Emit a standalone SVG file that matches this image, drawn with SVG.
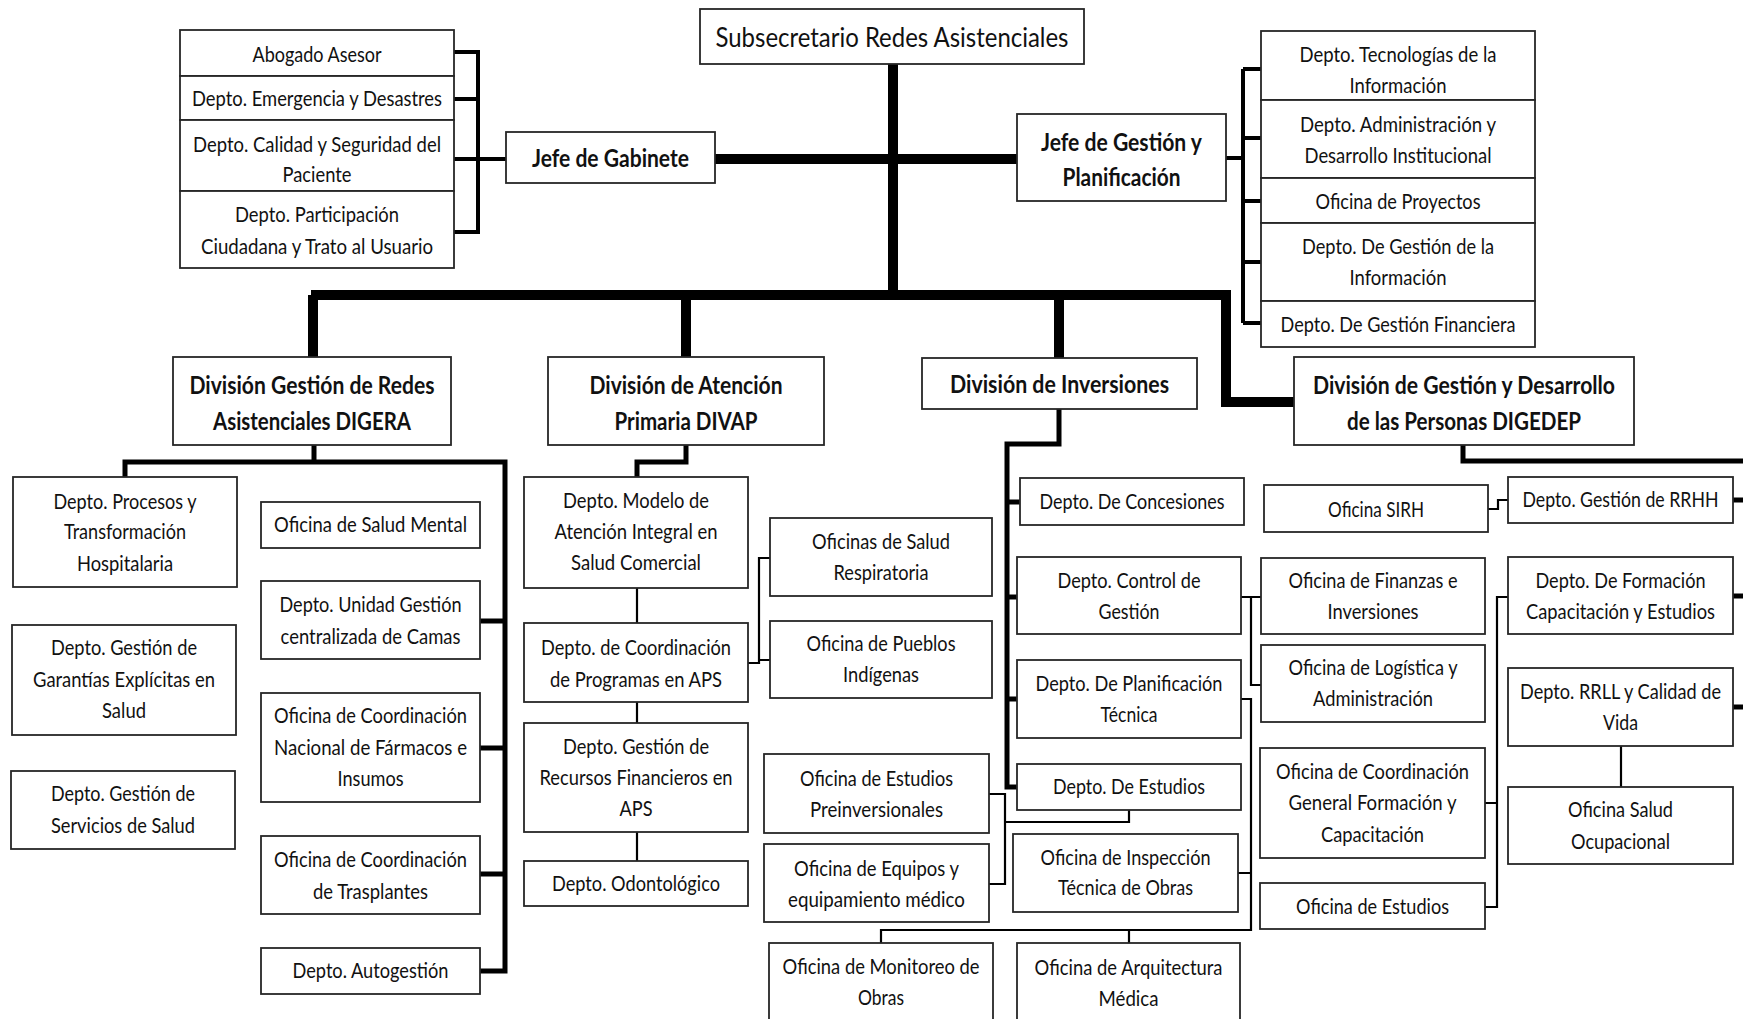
<svg xmlns="http://www.w3.org/2000/svg" width="1743" height="1019" viewBox="0 0 1743 1019">
<style>
.bg{fill:#fff}
.box{fill:#fff;stroke:#262626;stroke-width:1.8}
.t{font-family:Lato,"Liberation Sans",sans-serif;font-size:21px;text-anchor:middle;fill:#111}
.b{font-family:Lato,"Liberation Sans",sans-serif;font-size:24px;font-weight:bold;text-anchor:middle;fill:#111}
.s{font-family:Lato,"Liberation Sans",sans-serif;font-size:26px;text-anchor:middle;fill:#111}
.k{fill:none;stroke:#000;stroke-width:10}
.m{fill:none;stroke:#000;stroke-width:5}
.g{fill:none;stroke:#000;stroke-width:4}
.n{fill:none;stroke:#000;stroke-width:2.2}
</style>
<rect class="bg" x="0" y="0" width="1743" height="1019"/>
<g id="connectors">
<path class="k" d="M893 63V295"/>
<path class="k" d="M715 159H1017"/>
<path class="k" d="M311 295H1226V402H1294"/>
<path class="k" d="M313 295V357M686 295V357M1059 295V358"/>
<path class="g" d="M454 52H478V232H454M454 99H478M454 159H506"/>
<path class="g" d="M1226 158H1243M1243 69V323M1243 69H1261M1243 138H1261M1243 201H1261M1243 262H1261M1243 323H1261"/>
<path class="m" d="M314 445V462M125 477V462H505V971H480M480 621H505M480 748H505M480 874H505"/>
<path class="m" d="M686 445V462H637V477"/>
<path class="m" d="M1059 409V444H1007V787H1017M1007 502H1020M1007 597H1017M1007 699H1017"/>
<path class="m" d="M1463 445V461H1743M1733 500H1743M1733 596H1743M1733 707H1743"/>
<path class="n" d="M637 588V623M637 702V723M637 832V861M748 663H759V558H770M759 660H770"/>
<path class="n" d="M1129 810V822H1005M989 794H1005V884H989"/>
<path class="n" d="M1241 597H1261M1251 597V685H1261"/>
<path class="n" d="M1240 699H1251V930H881V943M1129 930V943M1238 873H1251"/>
<path class="n" d="M1488 509H1498V500H1508M1621 746V787M1508 597H1497V907H1485M1485 803H1497"/>
</g>
<g id="n-sub"><rect class="box" x="700" y="9" width="384" height="55"/><text class="s" x="892" y="47" textLength="353" lengthAdjust="spacingAndGlyphs">Subsecretario Redes Asistenciales</text></g>
<g id="n-abogado"><rect class="box" x="180" y="30" width="274" height="46"/><text class="t" x="317" y="62" textLength="129" lengthAdjust="spacingAndGlyphs">Abogado Asesor</text></g>
<g id="n-emergencia"><rect class="box" x="180" y="76" width="274" height="44"/><text class="t" x="317" y="106" textLength="250" lengthAdjust="spacingAndGlyphs">Depto. Emergencia y Desastres</text></g>
<g id="n-calidad"><rect class="box" x="180" y="120" width="274" height="71"/><text class="t" x="317" y="152" textLength="248" lengthAdjust="spacingAndGlyphs">Depto. Calidad y Seguridad del</text><text class="t" x="317" y="182" textLength="69" lengthAdjust="spacingAndGlyphs">Paciente</text></g>
<g id="n-participacion"><rect class="box" x="180" y="191" width="274" height="77"/><text class="t" x="317" y="222" textLength="164" lengthAdjust="spacingAndGlyphs">Depto. Participación</text><text class="t" x="317" y="254" textLength="232" lengthAdjust="spacingAndGlyphs">Ciudadana y Trato al Usuario</text></g>
<g id="n-gabinete"><rect class="box" x="506" y="132" width="209" height="51"/><text class="b" x="610.5" y="166.5" textLength="157" lengthAdjust="spacingAndGlyphs">Jefe de Gabinete</text></g>
<g id="n-gestion"><rect class="box" x="1017" y="114" width="209" height="87"/><text class="b" x="1121.5" y="150.5" textLength="161" lengthAdjust="spacingAndGlyphs">Jefe de Gestión y</text><text class="b" x="1121.5" y="185.5" textLength="118" lengthAdjust="spacingAndGlyphs">Planificación</text></g>
<g id="n-tecnologias"><rect class="box" x="1261" y="31" width="274" height="69"/><text class="t" x="1398" y="62" textLength="197" lengthAdjust="spacingAndGlyphs">Depto. Tecnologías de la</text><text class="t" x="1398" y="93" textLength="97" lengthAdjust="spacingAndGlyphs">Información</text></g>
<g id="n-administracion"><rect class="box" x="1261" y="100" width="274" height="78"/><text class="t" x="1398" y="132" textLength="196" lengthAdjust="spacingAndGlyphs">Depto. Administración y</text><text class="t" x="1398" y="163" textLength="187" lengthAdjust="spacingAndGlyphs">Desarrollo Institucional</text></g>
<g id="n-proyectos"><rect class="box" x="1261" y="178" width="274" height="45"/><text class="t" x="1398" y="209" textLength="165" lengthAdjust="spacingAndGlyphs">Oficina de Proyectos</text></g>
<g id="n-gestioninfo"><rect class="box" x="1261" y="223" width="274" height="78"/><text class="t" x="1398" y="254" textLength="192" lengthAdjust="spacingAndGlyphs">Depto. De Gestión de la</text><text class="t" x="1398" y="285" textLength="97" lengthAdjust="spacingAndGlyphs">Información</text></g>
<g id="n-financiera"><rect class="box" x="1261" y="301" width="274" height="46"/><text class="t" x="1398" y="332" textLength="235" lengthAdjust="spacingAndGlyphs">Depto. De Gestión Financiera</text></g>
<g id="n-digera"><rect class="box" x="173" y="357" width="278" height="88"/><text class="b" x="312" y="393.5" textLength="245" lengthAdjust="spacingAndGlyphs">División Gestión de Redes</text><text class="b" x="312" y="429.5" textLength="198" lengthAdjust="spacingAndGlyphs">Asistenciales DIGERA</text></g>
<g id="n-divap"><rect class="box" x="548" y="357" width="276" height="88"/><text class="b" x="686" y="393.5" textLength="193" lengthAdjust="spacingAndGlyphs">División de Atención</text><text class="b" x="686" y="429.5" textLength="143" lengthAdjust="spacingAndGlyphs">Primaria DIVAP</text></g>
<g id="n-inversiones"><rect class="box" x="922" y="358" width="275" height="51"/><text class="b" x="1059.5" y="392.5" textLength="219" lengthAdjust="spacingAndGlyphs">División de Inversiones</text></g>
<g id="n-digedep"><rect class="box" x="1294" y="357" width="340" height="88"/><text class="b" x="1464" y="393.5" textLength="302" lengthAdjust="spacingAndGlyphs">División de Gestión y Desarrollo</text><text class="b" x="1464" y="429.5" textLength="234" lengthAdjust="spacingAndGlyphs">de las Personas DIGEDEP</text></g>
<g id="n-procesos"><rect class="box" x="13" y="477" width="224" height="110"/><text class="t" x="125" y="509" textLength="143" lengthAdjust="spacingAndGlyphs">Depto. Procesos y</text><text class="t" x="125" y="539" textLength="122" lengthAdjust="spacingAndGlyphs">Transformación</text><text class="t" x="125" y="571" textLength="96" lengthAdjust="spacingAndGlyphs">Hospitalaria</text></g>
<g id="n-saludmental"><rect class="box" x="261" y="502" width="219" height="46"/><text class="t" x="370.5" y="532" textLength="193" lengthAdjust="spacingAndGlyphs">Oficina de Salud Mental</text></g>
<g id="n-camas"><rect class="box" x="261" y="581" width="219" height="78"/><text class="t" x="370.5" y="612" textLength="182" lengthAdjust="spacingAndGlyphs">Depto. Unidad Gestión</text><text class="t" x="370.5" y="644" textLength="180" lengthAdjust="spacingAndGlyphs">centralizada de Camas</text></g>
<g id="n-garantias"><rect class="box" x="12" y="625" width="224" height="110"/><text class="t" x="124" y="655" textLength="146" lengthAdjust="spacingAndGlyphs">Depto. Gestión de</text><text class="t" x="124" y="687" textLength="182" lengthAdjust="spacingAndGlyphs">Garantías Explícitas en</text><text class="t" x="124" y="718" textLength="44" lengthAdjust="spacingAndGlyphs">Salud</text></g>
<g id="n-farmacos"><rect class="box" x="261" y="693" width="219" height="109"/><text class="t" x="370.5" y="723" textLength="193" lengthAdjust="spacingAndGlyphs">Oficina de Coordinación</text><text class="t" x="370.5" y="755" textLength="193" lengthAdjust="spacingAndGlyphs">Nacional de Fármacos e</text><text class="t" x="370.5" y="786" textLength="66" lengthAdjust="spacingAndGlyphs">Insumos</text></g>
<g id="n-servicios"><rect class="box" x="11" y="771" width="224" height="78"/><text class="t" x="123" y="801" textLength="144" lengthAdjust="spacingAndGlyphs">Depto. Gestión de</text><text class="t" x="123" y="833" textLength="144" lengthAdjust="spacingAndGlyphs">Servicios de Salud</text></g>
<g id="n-trasplantes"><rect class="box" x="261" y="836" width="219" height="78"/><text class="t" x="370.5" y="867" textLength="193" lengthAdjust="spacingAndGlyphs">Oficina de Coordinación</text><text class="t" x="370.5" y="899" textLength="115" lengthAdjust="spacingAndGlyphs">de Trasplantes</text></g>
<g id="n-autogestion"><rect class="box" x="261" y="948" width="219" height="46"/><text class="t" x="370.5" y="978" textLength="156" lengthAdjust="spacingAndGlyphs">Depto. Autogestión</text></g>
<g id="n-modelo"><rect class="box" x="524" y="477" width="224" height="111"/><text class="t" x="636" y="508" textLength="146" lengthAdjust="spacingAndGlyphs">Depto. Modelo de</text><text class="t" x="636" y="539" textLength="163" lengthAdjust="spacingAndGlyphs">Atención Integral en</text><text class="t" x="636" y="570" textLength="130" lengthAdjust="spacingAndGlyphs">Salud Comercial</text></g>
<g id="n-coordaps"><rect class="box" x="524" y="623" width="224" height="79"/><text class="t" x="636" y="655" textLength="190" lengthAdjust="spacingAndGlyphs">Depto. de Coordinación</text><text class="t" x="636" y="687" textLength="172" lengthAdjust="spacingAndGlyphs">de Programas en APS</text></g>
<g id="n-recursos"><rect class="box" x="524" y="723" width="224" height="109"/><text class="t" x="636" y="754" textLength="146" lengthAdjust="spacingAndGlyphs">Depto. Gestión de</text><text class="t" x="636" y="785" textLength="193" lengthAdjust="spacingAndGlyphs">Recursos Financieros en</text><text class="t" x="636" y="816" textLength="33" lengthAdjust="spacingAndGlyphs">APS</text></g>
<g id="n-odontologico"><rect class="box" x="524" y="861" width="224" height="45"/><text class="t" x="636" y="891" textLength="168" lengthAdjust="spacingAndGlyphs">Depto. Odontológico</text></g>
<g id="n-respiratoria"><rect class="box" x="770" y="518" width="222" height="78"/><text class="t" x="881" y="549" textLength="138" lengthAdjust="spacingAndGlyphs">Oficinas de Salud</text><text class="t" x="881" y="580" textLength="95" lengthAdjust="spacingAndGlyphs">Respiratoria</text></g>
<g id="n-pueblos"><rect class="box" x="770" y="621" width="222" height="77"/><text class="t" x="881" y="651" textLength="149" lengthAdjust="spacingAndGlyphs">Oficina de Pueblos</text><text class="t" x="881" y="682" textLength="76" lengthAdjust="spacingAndGlyphs">Indígenas</text></g>
<g id="n-concesiones"><rect class="box" x="1020" y="478" width="224" height="47"/><text class="t" x="1132" y="509" textLength="185" lengthAdjust="spacingAndGlyphs">Depto. De Concesiones</text></g>
<g id="n-control"><rect class="box" x="1017" y="557" width="224" height="77"/><text class="t" x="1129" y="588" textLength="143" lengthAdjust="spacingAndGlyphs">Depto. Control de</text><text class="t" x="1129" y="619" textLength="61" lengthAdjust="spacingAndGlyphs">Gestión</text></g>
<g id="n-planificacion"><rect class="box" x="1017" y="660" width="224" height="78"/><text class="t" x="1129" y="691" textLength="187" lengthAdjust="spacingAndGlyphs">Depto. De Planificación</text><text class="t" x="1129" y="722" textLength="57" lengthAdjust="spacingAndGlyphs">Técnica</text></g>
<g id="n-estudios"><rect class="box" x="1017" y="764" width="224" height="46"/><text class="t" x="1129" y="794" textLength="152" lengthAdjust="spacingAndGlyphs">Depto. De Estudios</text></g>
<g id="n-preinversionales"><rect class="box" x="764" y="754" width="225" height="79"/><text class="t" x="876.5" y="786" textLength="153" lengthAdjust="spacingAndGlyphs">Oficina de Estudios</text><text class="t" x="876.5" y="817" textLength="133" lengthAdjust="spacingAndGlyphs">Preinversionales</text></g>
<g id="n-equipos"><rect class="box" x="764" y="844" width="225" height="78"/><text class="t" x="876.5" y="876" textLength="165" lengthAdjust="spacingAndGlyphs">Oficina de Equipos y</text><text class="t" x="876.5" y="907" textLength="177" lengthAdjust="spacingAndGlyphs">equipamiento médico</text></g>
<g id="n-inspeccion"><rect class="box" x="1013" y="834" width="225" height="78"/><text class="t" x="1125.5" y="865" textLength="170" lengthAdjust="spacingAndGlyphs">Oficina de Inspección</text><text class="t" x="1125.5" y="895" textLength="135" lengthAdjust="spacingAndGlyphs">Técnica de Obras</text></g>
<g id="n-monitoreo"><rect class="box" x="769" y="943" width="224" height="90"/><text class="t" x="881" y="974" textLength="197" lengthAdjust="spacingAndGlyphs">Oficina de Monitoreo de</text><text class="t" x="881" y="1005" textLength="46" lengthAdjust="spacingAndGlyphs">Obras</text></g>
<g id="n-arquitectura"><rect class="box" x="1017" y="943" width="223" height="90"/><text class="t" x="1128.5" y="975" textLength="188" lengthAdjust="spacingAndGlyphs">Oficina de Arquitectura</text><text class="t" x="1128.5" y="1006" textLength="60" lengthAdjust="spacingAndGlyphs">Médica</text></g>
<g id="n-sirh"><rect class="box" x="1264" y="485" width="224" height="47"/><text class="t" x="1376" y="517" textLength="96" lengthAdjust="spacingAndGlyphs">Oficina SIRH</text></g>
<g id="n-rrhh"><rect class="box" x="1508" y="477" width="225" height="46"/><text class="t" x="1620.5" y="507" textLength="196" lengthAdjust="spacingAndGlyphs">Depto. Gestión de RRHH</text></g>
<g id="n-finanzas"><rect class="box" x="1261" y="558" width="224" height="76"/><text class="t" x="1373" y="588" textLength="169" lengthAdjust="spacingAndGlyphs">Oficina de Finanzas e</text><text class="t" x="1373" y="619" textLength="91" lengthAdjust="spacingAndGlyphs">Inversiones</text></g>
<g id="n-logistica"><rect class="box" x="1261" y="645" width="224" height="77"/><text class="t" x="1373" y="675" textLength="169" lengthAdjust="spacingAndGlyphs">Oficina de Logística y</text><text class="t" x="1373" y="706" textLength="120" lengthAdjust="spacingAndGlyphs">Administración</text></g>
<g id="n-coordgeneral"><rect class="box" x="1260" y="748" width="225" height="110"/><text class="t" x="1372.5" y="779" textLength="193" lengthAdjust="spacingAndGlyphs">Oficina de Coordinación</text><text class="t" x="1372.5" y="810" textLength="168" lengthAdjust="spacingAndGlyphs">General Formación y</text><text class="t" x="1372.5" y="842" textLength="103" lengthAdjust="spacingAndGlyphs">Capacitación</text></g>
<g id="n-ofestudios"><rect class="box" x="1260" y="883" width="225" height="46"/><text class="t" x="1372.5" y="914" textLength="153" lengthAdjust="spacingAndGlyphs">Oficina de Estudios</text></g>
<g id="n-formacion"><rect class="box" x="1508" y="557" width="225" height="77"/><text class="t" x="1620.5" y="588" textLength="170" lengthAdjust="spacingAndGlyphs">Depto. De Formación</text><text class="t" x="1620.5" y="619" textLength="189" lengthAdjust="spacingAndGlyphs">Capacitación y Estudios</text></g>
<g id="n-rrll"><rect class="box" x="1508" y="668" width="225" height="78"/><text class="t" x="1620.5" y="699" textLength="201" lengthAdjust="spacingAndGlyphs">Depto. RRLL y Calidad de</text><text class="t" x="1620.5" y="730" textLength="35" lengthAdjust="spacingAndGlyphs">Vida</text></g>
<g id="n-saludocupacional"><rect class="box" x="1508" y="787" width="225" height="77"/><text class="t" x="1620.5" y="817" textLength="105" lengthAdjust="spacingAndGlyphs">Oficina Salud</text><text class="t" x="1620.5" y="849" textLength="99" lengthAdjust="spacingAndGlyphs">Ocupacional</text></g>
</svg>
